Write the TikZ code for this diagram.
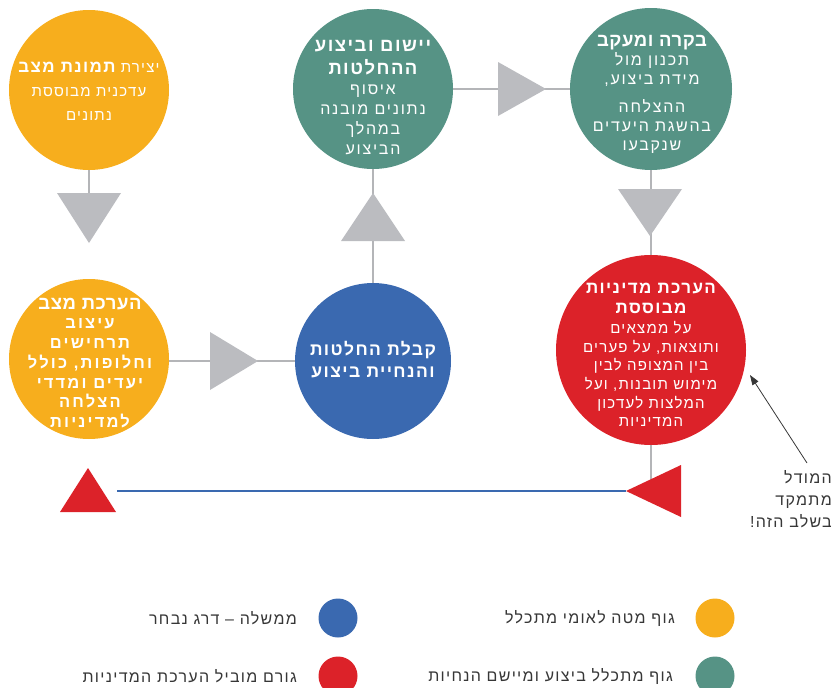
\documentclass[tikz,border=0pt]{standalone}
\usepackage{fontspec}
\TeXXeTstate=1
\newfontfamily\heb[Script=Hebrew,LetterSpace=8]{Liberation Sans}
\newfontfamily\hebw[Script=Hebrew,LetterSpace=11]{Liberation Sans}
\newfontfamily\hebt[Script=Hebrew,LetterSpace=3]{Liberation Sans}
\newfontfamily\hebc[Script=Hebrew,LetterSpace=13]{Liberation Sans}
\newcommand\RL[1]{\beginR#1\endR}
\newcommand\BT[2][\heb]{{#1\bfseries\fontsize{18.5}{20}\selectfont\RL{#2}}}
\usetikzlibrary{arrows.meta}
\definecolor{cyel}{RGB}{247,174,29}
\definecolor{cgrn}{RGB}{86,147,133}
\definecolor{cblu}{RGB}{58,105,176}
\definecolor{cred}{RGB}{220,34,41}
\definecolor{ctri}{RGB}{187,188,192}
\definecolor{cline}{RGB}{180,181,184}
\definecolor{ctxt}{RGB}{55,55,55}
\begin{document}
\begin{tikzpicture}[x=1pt,y=-1pt,
  bubble/.style={circle, inner sep=0pt, minimum size=160pt},
  btext/.style={inner sep=0pt, text=white, align=center},
  legdot/.style={circle, inner sep=0pt, minimum size=39pt},
  legtext/.style={anchor=east, text=ctxt, font=\heb\fontsize{16}{20}\selectfont, inner sep=0pt},
  conn/.style={draw=cline, line width=2pt},
  tri/.style={fill=ctri},
  redtri/.style={fill=cred}]
\useasboundingbox (0,0) rectangle (836,688);

% circles
\node[bubble, fill=cyel] (c1) at (89,90) {};
\node[bubble, fill=cgrn] (c2) at (373,89) {};
\node[bubble, fill=cgrn, minimum size=162pt] (c3) at (651,89) {};
\node[bubble, fill=cyel] (c4) at (89,359) {};
\node[bubble, fill=cblu, minimum size=156pt] (c5) at (373,361) {};
\node[bubble, fill=cred, minimum size=190pt] (c6) at (651,350) {};

% circle texts
\node[btext, font=\heb\fontsize{15}{24}\selectfont] (c1t) at (89,91)
  {\RL{יצירת {\bfseries\fontsize{17}{20}\selectfont תמונת מצב}}\\ \RL{עדכנית מבוססת}\\ \RL{נתונים}};
\node[btext, font=\hebw\fontsize{16}{20}\selectfont] (c2t) at (373,97.5)
  {\BT{יישום וביצוע}\\[3pt] \BT{ההחלטות}\\ \RL{איסוף}\\ \RL{נתונים מובנה}\\ \RL{במהלך}\\ \RL{הביצוע}};
\node[btext, font=\hebw\fontsize{16}{19}\selectfont] (c3t) at (652,94)
  {\BT[\hebt]{בקרה ומעקב}\\ \RL{תכנון מול}\\ \RL{מידת ביצוע,}\\[9pt] \RL{ההצלחה}\\ \RL{בהשגת היעדים}\\ \RL{שנקבעו}};
\node[btext, font=\hebc\bfseries\fontsize{16.5}{19.7}\selectfont] (c4t) at (90,363)
  {{\hebt\fontsize{18.5}{20}\selectfont\RL{הערכת מצב}}\\ \RL{עיצוב}\\ \RL{תרחישים}\\ \RL{וחלופות, כולל}\\ \RL{יעדים ומדדי}\\ \RL{הצלחה}\\ \RL{למדיניות}};
\node[btext, font=\heb\bfseries\fontsize{17.5}{22}\selectfont] (c5t) at (373,360)
  {\RL{קבלת החלטות}\\ \RL{והנחיית ביצוע}};
\node[btext, font=\heb\fontsize{15}{18.6}\selectfont] (c6t) at (651,355)
  {{\bfseries\fontsize{17}{20}\selectfont\RL{הערכת מדיניות}}\\[1.4pt] {\bfseries\fontsize{17}{20}\selectfont\RL{מבוססת}}\\[1.4pt] \RL{על ממצאים}\\ \RL{ותוצאות, על פערים}\\ \RL{בין המצופה לבין}\\ \RL{מימוש תובנות, ועל}\\ \RL{המלצות לעדכון}\\ \RL{המדיניות}};

% coordinates
\coordinate (t1) at (89,193);
\coordinate (bl) at (651,491);
\coordinate (lstart) at (117,491);
\coordinate (rtip) at (626,491);

% connectors
\draw[conn] (c1.south) -- (t1);
\draw[conn] (c4.east |- c5.west) -- (c5.west);
\draw[conn] (c5.north) -- (c2.south);
\draw[conn] (c2.east) -- (c3.west);
\draw[conn] (c3.south) -- (c6.north);
\draw[conn] (c6.south) -- (bl);
\draw[draw=cblu, line width=2.2pt] (lstart) -- (rtip);

% triangles
\fill[tri] (57,193) -- (121,193) -- (89,243) -- cycle;
\fill[tri] (210,332) -- (258,361) -- (210,390) -- cycle;
\fill[tri] (341,241) -- (405,241) -- (373,193) -- cycle;
\fill[tri] (498,62) -- (546,89) -- (498,116) -- cycle;
\fill[tri] (618,189) -- (682,189) -- (650,236) -- cycle;
\fill[redtri] (681,465) -- (681,517) -- (rtip) -- cycle;
\fill[redtri] (60,512) -- (116,512) -- (88,468) -- cycle;

% annotation
\node[anchor=east, align=right, text=ctxt, inner sep=0pt, font=\heb\fontsize{16}{22}\selectfont] (note) at (832,499)
  {\RL{המודל}\\ \RL{מתמקד}\\ \RL{בשלב הזה!}};
\coordinate (atail) at (807,463);
\coordinate (ahead) at (750,375);
\draw[draw=ctxt, line width=0.8pt, -{Triangle[length=10pt,width=7pt]}] (atail) -- (ahead);

% legend
\node[legdot, fill=cyel] (l1) at (715,618) {};
\node[legdot, fill=cgrn] (l2) at (715,676) {};
\node[legdot, fill=cblu] (l3) at (338,618) {};
\node[legdot, fill=cred] (l4) at (338,676) {};
\node[legtext] (lt1) at (675,618) {\RL{גוף מטה לאומי מתכלל}};
\node[legtext] (lt2) at (673,676) {\RL{גוף מתכלל ביצוע ומיישם הנחיות}};
\node[legtext] (lt3) at (297,618) {\RL{ממשלה – דרג נבחר}};
\node[legtext] (lt4) at (297,676) {\RL{גורם מוביל הערכת המדיניות}};
\end{tikzpicture}
\end{document}
